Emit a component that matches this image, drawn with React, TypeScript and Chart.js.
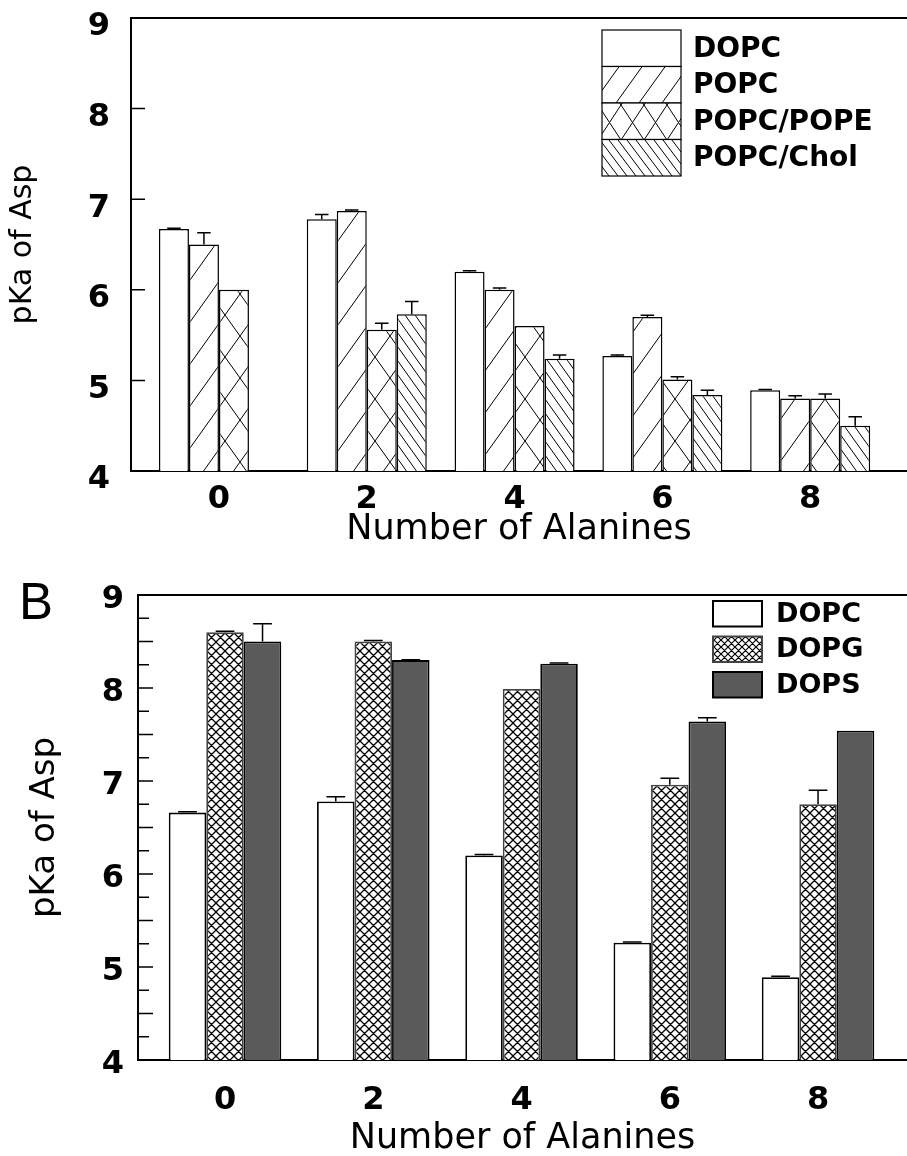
import React, { useEffect, useRef } from 'react';
import { Chart, registerables } from 'chart.js';

Chart.register(...registerables);

// ---------------- data ----------------
const alanines = [0, 2, 4, 6, 8];

// Panel A (top)
const labelsA = ['DOPC', 'POPC', 'POPC/POPE', 'POPC/Chol'];
const dopcA = [6.67, 6.78, 6.2, 5.27, 4.89];
const dopcAErr = [0.01, 0.05, 0.01, 0.01, 0.01];
const popcA = [6.5, 6.87, 6.0, 5.7, 4.8];
const popcAErr = [0.13, 0.01, 0.02, 0.02, 0.03];
const popcPopeA = [6.0, 5.56, 5.6, 5.01, 4.8];
const popcPopeAErr = [0, 0.07, 0, 0.03, 0.05];
const popcCholA: (number | null)[] = [null, 5.73, 5.24, 4.84, 4.5];
const popcCholAErr = [0, 0.14, 0.04, 0.05, 0.1];

// Panel B (bottom)
const labelsB = ['DOPC', 'DOPG', 'DOPS'];
const dopcB = [6.66, 6.78, 6.2, 5.26, 4.89];
const dopcBErr = [0.01, 0.05, 0.01, 0.01, 0.01];
const dopgB = [8.6, 8.5, 7.99, 6.96, 6.75];
const dopgBErr = [0.01, 0.01, 0, 0.07, 0.15];
const dopsB = [8.5, 8.3, 8.26, 7.64, 7.54];
const dopsBErr = [0.19, 0.005, 0.01, 0.04, 0];

const yMin = 4;
const yMax = 9;
const xTitle = 'Number of Alanines';
const yTitle = 'pKa of Asp';
const panelLabelB = 'B';

// ---------------- helpers ----------------
const FONT = "'DejaVu Sans', sans-serif";

const pts = (vals: (number | null)[]) => alanines.map((x, i) => ({ x, y: vals[i] }));

type Kind = '/' | '\\' | 'x';
function makePattern(ctx: CanvasRenderingContext2D, w: number, h: number, kind: Kind, lw = 1) {
  const cv = document.createElement('canvas');
  cv.width = w;
  cv.height = h;
  const c = cv.getContext('2d')!;
  c.fillStyle = '#fff';
  c.fillRect(0, 0, w, h);
  c.strokeStyle = '#000';
  c.lineWidth = lw;
  c.beginPath();
  for (const dx of [-w, 0, w]) {
    for (const dy of [-h, 0, h]) {
      if (kind === '/' || kind === 'x') {
        c.moveTo(dx, dy + h);
        c.lineTo(dx + w, dy);
      }
      if (kind === '\\' || kind === 'x') {
        c.moveTo(dx, dy);
        c.lineTo(dx + w, dy + h);
      }
    }
  }
  c.stroke();
  return ctx.createPattern(cv, 'repeat')!;
}

// ---------------- plugins ----------------
const errorBarsPlugin = {
  id: 'errorBars',
  afterDatasetsDraw(chart: any, _a: any, opts: any) {
    const { ctx } = chart;
    const yScale = chart.scales.y;
    ctx.save();
    ctx.strokeStyle = '#000';
    ctx.lineWidth = opts.lineWidth ?? 1.5;
    chart.data.datasets.forEach((ds: any, di: number) => {
      const meta = chart.getDatasetMeta(di);
      const errs = ds.errors || [];
      meta.data.forEach((bar: any, i: number) => {
        const raw = ds.data[i];
        const v = raw ? raw.y : null;
        const e = errs[i];
        if (v == null || !e) return;
        const y0 = yScale.getPixelForValue(v);
        const y1 = yScale.getPixelForValue(v + e);
        const half = (bar.width * opts.capRatio) / 2;
        ctx.beginPath();
        ctx.moveTo(bar.x, y0);
        ctx.lineTo(bar.x, y1);
        ctx.moveTo(bar.x - half, y1);
        ctx.lineTo(bar.x + half, y1);
        ctx.stroke();
      });
    });
    ctx.restore();
  },
};

const framePlugin = {
  id: 'frame',
  afterDraw(chart: any, _a: any, opts: any) {
    const { ctx, chartArea: ca } = chart;
    const y = chart.scales.y;
    ctx.save();
    ctx.strokeStyle = '#000';
    ctx.lineWidth = 2;
    ctx.beginPath();
    ctx.moveTo(ca.left - 1, ca.top);
    ctx.lineTo(ca.right, ca.top);
    ctx.stroke();
    ctx.lineWidth = 1.5;
    const vals = y.ticks.map((t: any) => t.value);
    ctx.beginPath();
    vals.forEach((v: number, i: number) => {
      if (v > y.min && v < y.max) {
        const py = y.getPixelForValue(v);
        ctx.moveTo(ca.left, py);
        ctx.lineTo(ca.left + opts.major, py);
      }
      if (opts.minor && i > 0) {
        const py = y.getPixelForValue((v + vals[i - 1]) / 2);
        ctx.moveTo(ca.left, py);
        ctx.lineTo(ca.left + opts.minor, py);
      }
    });
    ctx.stroke();
    if (opts.panelLabel) {
      ctx.font = opts.panelFont;
      ctx.fillStyle = '#000';
      ctx.textBaseline = 'alphabetic';
      ctx.textAlign = 'left';
      ctx.fillText(opts.panelLabel, opts.panelX, opts.panelY);
    }
    ctx.restore();
  },
};

const boxLegendPlugin = {
  id: 'boxLegend',
  afterDraw(chart: any, _a: any, o: any) {
    const { ctx } = chart;
    ctx.save();
    chart.data.datasets.forEach((ds: any, i: number) => {
      const top = o.top + i * o.step;
      ctx.fillStyle = ds.legendFill;
      ctx.fillRect(o.left, top, o.boxW, o.boxH);
      ctx.strokeStyle = ds.legendBorder || '#000';
      ctx.lineWidth = o.lineWidth;
      ctx.strokeRect(o.left, top, o.boxW, o.boxH);
      ctx.fillStyle = '#000';
      ctx.font = o.font;
      ctx.textBaseline = 'middle';
      ctx.textAlign = 'left';
      ctx.fillText(ds.label, o.textX, top + o.boxH / 2 + 1);
    });
    ctx.restore();
  },
};

function baseScales(p: any) {
  return {
    x: {
      type: 'linear',
      min: p.xMin,
      max: p.xMax,
      offset: false,
      afterBuildTicks: (axis: any) => {
        axis.ticks = alanines.map((v) => ({ value: v }));
      },
      afterFit: (s: any) => {
        s.height = p.xHeight;
        s.paddingLeft = 0;
        s.paddingRight = 0;
      },
      grid: { display: false, drawTicks: false },
      border: { display: true, color: '#000', width: 2 },
      ticks: {
        color: '#000',
        padding: p.xTickPad,
        font: { family: FONT, weight: 'bold', size: 32, lineHeight: 1 },
        callback: (v: any) => String(v),
        autoSkip: false,
        maxRotation: 0,
      },
      title: {
        display: true,
        text: xTitle,
        color: '#000',
        font: { family: FONT, size: 35, lineHeight: 1 },
        padding: { top: 0, bottom: p.xTitlePad },
      },
    },
    y: {
      min: yMin,
      max: yMax,
      afterFit: (s: any) => {
        s.width = p.yWidth;
        s.paddingTop = 0;
        s.paddingBottom = 0;
      },
      grid: { display: false, drawTicks: false },
      border: { display: true, color: '#000', width: 2 },
      ticks: {
        stepSize: p.yStep,
        color: '#000',
        padding: p.yTickPad,
        labelOffset: p.yLabelOffset,
        font: { family: FONT, weight: 'bold', size: 32, lineHeight: 1 },
        callback: (v: any) => (Number.isInteger(v) ? String(v) : ''),
        autoSkip: false,
      },
      title: {
        display: true,
        text: yTitle,
        color: '#000',
        font: { family: FONT, size: p.yTitleSize, lineHeight: 1 },
        padding: { top: p.yTitlePad, bottom: 0 },
      },
    },
  };
}

export default function App() {
  const refA = useRef<HTMLCanvasElement>(null);
  const refB = useRef<HTMLCanvasElement>(null);

  useEffect(() => {
    const ca = refA.current!;
    const cb = refB.current!;
    const ctxA = ca.getContext('2d')!;
    const ctxB = cb.getContext('2d')!;

    const fillsA = [
      '#ffffff',
      makePattern(ctxA, 30, 42, '/'),
      makePattern(ctxA, 30, 42, 'x'),
      makePattern(ctxA, 10, 14, '\\'),
    ];
    const legendFillsA = [
      '#ffffff',
      makePattern(ctxA, 23, 32, '/'),
      makePattern(ctxA, 23, 35, 'x'),
      makePattern(ctxA, 9, 12, '\\'),
    ];
    const valsA = [dopcA, popcA, popcPopeA, popcCholA];
    const errsA = [dopcAErr, popcAErr, popcPopeAErr, popcCholAErr];

    const chartA = new Chart(ca, {
      type: 'bar',
      data: {
        datasets: labelsA.map((label, i) => ({
          label,
          data: pts(valsA[i]),
          errors: errsA[i],
          backgroundColor: fillsA[i],
          legendFill: legendFillsA[i],
          borderColor: '#000',
          borderWidth: 1.5,
          categoryPercentage: 0.812,
          barPercentage: 1,
        })) as any,
      },
      options: {
        responsive: false,
        animation: false,
        events: [],
        layout: { padding: { top: 18, right: 0, bottom: 0, left: 0 } },
        plugins: {
          legend: { display: false },
          tooltip: { enabled: false },
          errorBars: { capRatio: 0.45, lineWidth: 1.5 },
          frame: { major: 14 },
          boxLegend: {
            left: 602,
            top: 30,
            step: 36.5,
            boxW: 79,
            boxH: 36.5,
            textX: 693,
            lineWidth: 1.2,
            font: `bold 28px ${FONT}`,
          },
        } as any,
        scales: baseScales({
          xMin: -1.19,
          xMax: 9.31,
          xHeight: 99,
          xTickPad: 13,
          xTitlePad: 23,
          yWidth: 131,
          yStep: 1,
          yTickPad: 21,
          yLabelOffset: 9,
          yTitleSize: 30,
          yTitlePad: 8,
        }) as any,
      },
      plugins: [errorBarsPlugin, framePlugin, boxLegendPlugin],
    } as any);

    const dopgFill = makePattern(ctxB, 9, 9, 'x', 1.3);
    const fillsB = ['#ffffff', dopgFill, '#5a5a5a'];
    const legendFillsB = ['#ffffff', makePattern(ctxB, 7, 7, 'x', 1.2), '#5a5a5a'];
    const borderB = ['#000', '#444', '#000'];
    const valsB = [dopcB, dopgB, dopsB];
    const errsB = [dopcBErr, dopgBErr, dopsBErr];

    const chartB = new Chart(cb, {
      type: 'bar',
      data: {
        datasets: labelsB.map((label, i) => ({
          label,
          data: pts(valsB[i]),
          errors: errsB[i],
          backgroundColor: fillsB[i],
          legendFill: legendFillsB[i],
          legendBorder: borderB[i],
          borderColor: borderB[i],
          borderWidth: 1.8,
          categoryPercentage: 0.759,
          barPercentage: 1,
        })) as any,
      },
      options: {
        responsive: false,
        animation: false,
        events: [],
        layout: { padding: { top: 25, right: 0, bottom: 0, left: 0 } },
        plugins: {
          legend: { display: false },
          tooltip: { enabled: false },
          errorBars: { capRatio: 0.5, lineWidth: 1.5 },
          frame: {
            major: 15,
            minor: 11,
            panelLabel: panelLabelB,
            panelFont: "51px 'Liberation Sans', sans-serif",
            panelX: 19,
            panelY: 49,
          },
          boxLegend: {
            left: 713,
            top: 31,
            step: 35.5,
            boxW: 49,
            boxH: 25.5,
            textX: 776,
            lineWidth: 2,
            font: `bold 27px ${FONT}`,
          },
        } as any,
        scales: baseScales({
          xMin: -1.174,
          xMax: 9.2,
          xHeight: 96,
          xTickPad: 25,
          xTitlePad: 0,
          yWidth: 138,
          yStep: 0.5,
          yTickPad: 14,
          yLabelOffset: 5,
          yTitleSize: 34,
          yTitlePad: 28,
        }) as any,
      },
      plugins: [errorBarsPlugin, framePlugin, boxLegendPlugin],
    } as any);

    return () => {
      chartA.destroy();
      chartB.destroy();
    };
  }, []);

  return (
    <div style={{ position: 'absolute', left: 0, top: 0, width: 907, height: 1156, background: '#fff' }}>
      <canvas
        ref={refA}
        width={907}
        height={570}
        style={{ position: 'absolute', left: 0, top: 0, width: 907, height: 570 }}
      />
      <canvas
        ref={refB}
        width={907}
        height={586}
        style={{ position: 'absolute', left: 0, top: 570, width: 907, height: 586 }}
      />
    </div>
  );
}
